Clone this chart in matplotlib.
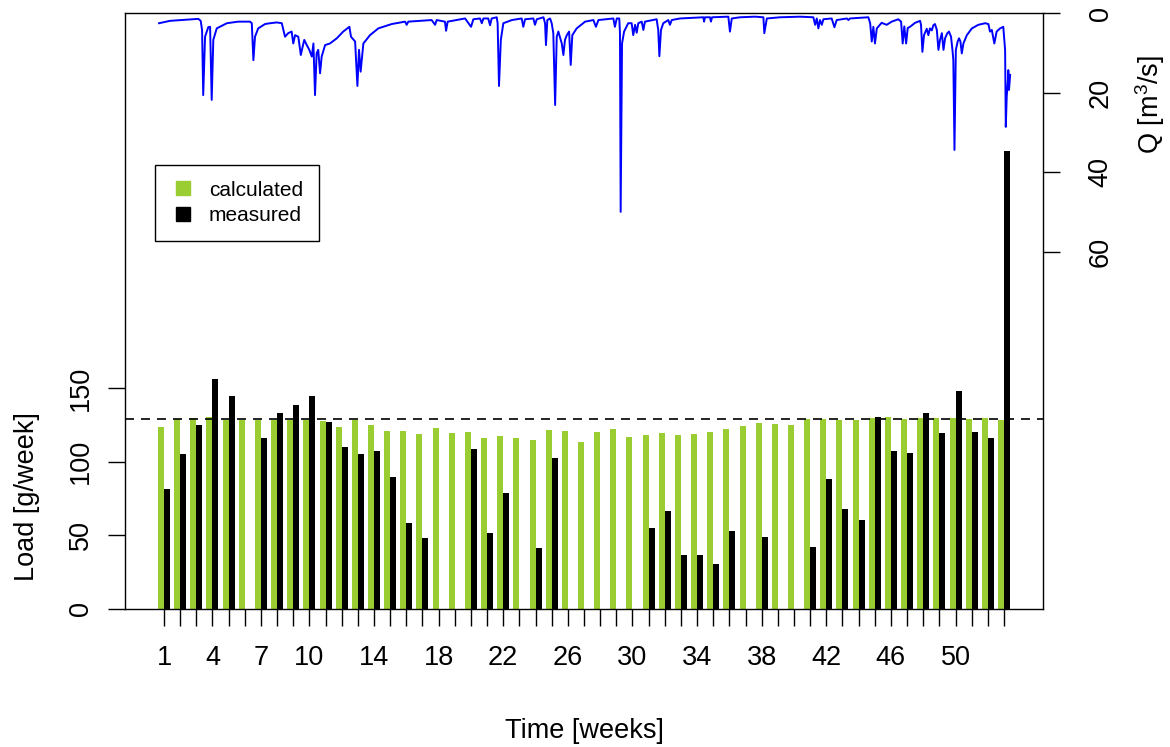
import matplotlib
matplotlib.use("Agg")
import matplotlib.pyplot as plt
import numpy as np
from matplotlib.lines import Line2D

plt.rcParams['font.family'] = ['Liberation Sans', 'DejaVu Sans']
plt.rcParams['mathtext.fontset'] = 'custom'
plt.rcParams['mathtext.rm'] = 'Liberation Sans'

# weekly loads [g/week]
weeks = np.arange(1, 54)
calculated = [123.5, 129.0, 129.6, 130.3, 128.5, 128.5, 128.5, 128.3, 128.3, 128.3,
              127.6, 123.5, 128.3, 124.9, 120.8, 120.8, 118.8, 122.9, 119.5, 120.1,
              116.1, 117.4, 116.1, 114.7, 121.5, 120.8, 113.3, 120.1, 122.2, 116.7,
              118.1, 119.5, 118.1, 118.8, 120.1, 122.2, 124.2, 126.2, 125.6, 124.9,
              129.0, 129.0, 128.3, 128.3, 129.6, 130.3, 129.0, 129.6, 129.6, 129.6,
              129.0, 129.6, 128.3]
nan = np.nan
measured = [81.4, 105.2, 124.9, 156.1, 144.6, nan, 116.1, 133.0, 138.7, 144.6,
            126.9, 110.0, 105.2, 107.2, 89.6, 58.4, 48.2, nan, nan, 108.6,
            51.6, 78.7, nan, 41.4, 102.5, nan, nan, nan, nan, nan,
            55.0, 66.5, 36.7, 36.7, 30.5, 52.9, nan, 48.9, nan, nan,
            42.1, 88.2, 67.9, 60.4, 130.3, 107.2, 105.9, 133.0, 119.5, 148.0,
            120.1, 116.1, 310.9]
mean_load = 128.7
week_labels = [1, 4, 7, 10, 14, 18, 22, 26, 30, 34, 38, 42, 46, 50]

# discharge Q [m3/s] over the year (day of year)
flow_day = [0.0, 4.8, 17.2, 18.2, 18.8, 19.3, 20.1, 21.5, 22.3, 23.0, 23.7, 25.2, 29.6, 34.6,
            39.7, 40.5, 41.2, 41.9, 43.3, 46.3, 48.5, 51.4, 53.6, 54.3, 55.0, 56.4, 57.9,
            58.6, 59.4, 60.8, 61.9, 62.7, 63.4, 64.5, 65.6, 66.7, 67.4, 68.1, 68.8, 69.5,
            70.3, 71.0, 72.5, 74.6, 77.6, 80.4, 83.1, 83.8, 85.6, 86.6, 87.3, 88.0, 89.2,
            92.1, 95.7, 101.6, 107.4, 108.1, 108.8, 119.0, 120.5, 121.2, 124.8, 125.3,
            126.0, 133.6, 136.2, 137.2, 140.1, 140.9, 141.6, 143.7, 144.5, 145.2, 147.4,
            147.8, 148.4, 149.2, 150.3, 154.0, 158.3, 159.0, 159.8, 163.4, 164.1, 164.9,
            167.8, 168.5, 168.9, 169.5, 170.7, 171.4, 172.1, 172.9, 173.6, 174.3, 175.8,
            176.5, 177.2, 178.0, 179.0, 179.7, 180.4, 182.3, 186.0, 189.6, 190.7, 191.8,
            198.3, 199.0, 199.8, 200.9, 201.2, 201.5, 202.1, 203.0, 204.8, 206.3, 207.0,
            207.8, 208.5, 209.2, 210.7, 211.4, 212.1, 217.2, 217.9, 218.4, 219.1, 220.1,
            222.3, 223.0, 223.8, 227.4, 237.6, 237.9, 238.3, 240.5, 240.9, 241.4, 248.5,
            249.2, 250.0, 253.6, 260.1, 263.8, 264.2, 265.3, 271.1, 279.8, 285.6, 286.4,
            287.1, 287.8, 288.5, 289.3, 290.0, 293.6, 294.8, 295.8, 300.2, 300.9, 301.6,
            309.6, 310.4, 311.1, 311.8, 312.5, 313.3, 315.4, 317.6, 319.8, 322.7, 323.9,
            324.6, 325.3, 326.1, 326.8, 327.8, 330.0, 332.2, 332.6, 333.2, 333.9, 335.1,
            335.8, 336.5, 337.3, 338.0, 338.7, 339.5, 340.2, 340.9, 341.7, 342.4, 343.1,
            344.1, 344.8, 345.7, 346.4, 346.7, 347.2, 347.8, 348.6, 349.2, 349.8, 350.4,
            351.1, 352.6, 354.8, 357.6, 360.6, 362.0, 362.7, 363.5, 364.6, 365.6, 367.1,
            368.5, 369.3, 369.6, 370.0, 370.5, 370.7, 371.0, 371.5]
flow_q = [2.5, 1.9, 1.4, 1.9, 4.2, 20.6, 5.9, 3.5, 3.4, 21.8, 6.7, 3.8, 2.5, 2.1,
          2.1, 2.5, 11.8, 5.9, 3.8, 2.7, 2.5, 2.3, 2.5, 4.2, 5.9, 5.0, 4.6,
          7.6, 5.5, 5.9, 10.5, 8.4, 6.7, 8.0, 9.2, 10.9, 7.6, 20.6, 10.1, 9.2,
          15.1, 10.9, 8.0, 7.6, 6.3, 4.6, 3.4, 5.9, 7.1, 18.3, 9.2, 14.7, 7.6,
          5.5, 3.8, 2.7, 2.1, 2.9, 2.1, 1.7, 2.9, 1.7, 2.1, 4.4,
          2.1, 1.3, 3.4, 1.5, 1.3, 2.5, 1.3, 1.3, 3.0, 1.3, 1.0,
          2.5, 18.3, 6.7, 2.5, 1.7, 1.3, 3.4, 1.5, 1.3, 2.9, 1.5,
          1.0, 2.5, 8.0, 1.7, 1.3, 2.5, 5.0, 23.1, 5.9, 4.6, 7.6,
          10.5, 6.7, 5.5, 4.6, 13.0, 5.5, 3.8, 2.1, 1.7, 3.4, 1.7,
          1.3, 3.4, 1.3, 1.3, 5.0, 50.0, 7.6, 4.6, 2.5, 2.5, 5.5,
          2.9, 4.9, 2.5, 2.1, 4.2, 2.1, 1.5, 4.2, 10.8, 4.2, 2.5,
          1.7, 2.9, 1.7, 1.3, 1.0, 2.1, 1.0, 1.0, 2.1, 1.0, 0.85,
          4.6, 1.3, 1.0, 0.85, 1.0, 5.0, 1.3, 1.0, 0.85, 1.0, 2.9,
          1.3, 3.8, 1.7, 2.9, 1.5, 1.3, 3.5, 1.7, 1.3, 1.7, 1.3,
          1.0, 2.5, 7.1, 3.4, 7.6, 3.8, 2.4, 2.9, 2.1, 1.5, 2.1,
          7.6, 3.3, 7.6, 3.7, 3.4, 2.4, 1.9, 2.9, 9.7, 5.5, 3.9,
          5.5, 3.8, 4.3, 3.0, 2.7, 4.2, 9.2, 6.7, 5.0, 9.2, 6.3,
          5.0, 4.6, 5.9, 9.7, 11.8, 34.4, 9.2, 7.1, 6.3, 7.1, 10.1,
          7.6, 5.5, 3.8, 2.9, 2.5, 2.7, 4.6, 4.2, 7.6, 4.6, 3.8,
          3.4, 9.2, 28.6, 21.0, 17.0, 14.3, 19.3, 15.5]

W, H = 1170, 747
fig = plt.figure(figsize=(W / 100, H / 100), dpi=100)
rect = [125 / W, 1 - 609 / H, (1043 - 125) / W, (609 - 13.3) / H]

# load bars
ax = fig.add_axes(rect)
bw = 0.37
ax.bar(weeks - bw / 2, calculated, bw, color='yellowgreen', linewidth=0)
ax.bar(weeks + bw / 2, measured, bw, color='black', linewidth=0)
ax.axhline(mean_load, color='black', lw=1.2, dashes=(5.4, 4.2))
ax.set_xlim(-1.415, 55.415)
ax.set_ylim(0, 404.3)
ax.set_xticks(weeks)
ax.set_xticklabels([str(w) if w in week_labels else '' for w in weeks])
ax.set_yticks([0, 50, 100, 150])
ax.tick_params(axis='both', length=12.2, width=1.0, labelsize=19.5, direction='out')
ax.tick_params(axis='x', pad=14)
ax.tick_params(axis='y', pad=10)
for lab in ax.get_yticklabels():
    lab.set_rotation(90)
    lab.set_va('center')
for s in ax.spines.values():
    s.set_linewidth(1.0)

handles = [Line2D([], [], ls='none', marker='s', markersize=10, color='yellowgreen'),
           Line2D([], [], ls='none', marker='s', markersize=10, color='black')]
leg = ax.legend(handles, ['calculated', 'measured'], loc='upper left',
                bbox_to_anchor=(155 / W, 1 - 165 / H), bbox_transform=fig.transFigure,
                fontsize=15, fancybox=False, edgecolor='black', framealpha=1,
                borderaxespad=0, borderpad=0.75, handlelength=1.2,
                handletextpad=0.64, labelspacing=0.3)
leg.get_frame().set_linewidth(1.0)

# discharge on its own axes, reversed, right-hand scale
ax2 = fig.add_axes(rect, frameon=False)
ax2.patch.set_visible(False)
ax2.plot(flow_day, flow_q, color='blue', lw=1.4)
ax2.set_xlim(-0.04 * 371, 1.04 * 371)
ax2.set_ylim(150, 0)
ax2.set_xticks([])
ax2.yaxis.tick_right()
ax2.set_yticks([0, 20, 40, 60])
ax2.tick_params(axis='y', length=12.2, width=1.0, labelsize=19.5, direction='out', pad=20)
for lab in ax2.get_yticklabels():
    lab.set_rotation(90)
    lab.set_va('center')

fig.text(584 / W, 1 - 731 / H, 'Time [weeks]', ha='center', va='center', fontsize=19.5)
fig.text(27 / W, 1 - 497 / H, 'Load [g/week]', ha='center', va='center',
         rotation=90, fontsize=19.5)
fig.text(1150 / W, 1 - 105 / H, r'Q [m$^\mathregular{3}$/s]', ha='center', va='center',
         rotation=90, fontsize=19.5)

fig.savefig('out.png', dpi=100)
